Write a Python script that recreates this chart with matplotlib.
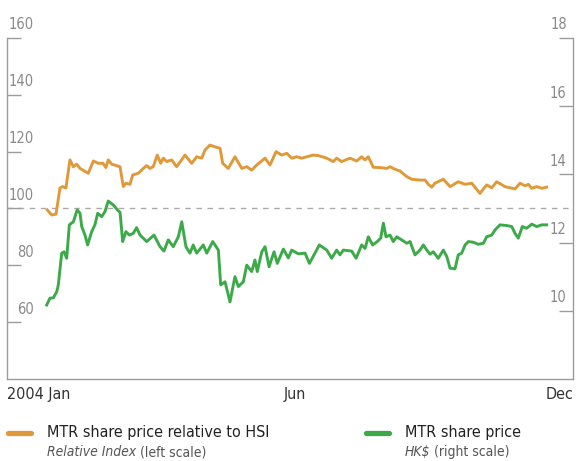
import numpy as np
import matplotlib
matplotlib.use("Agg")
import matplotlib.pyplot as plt
from matplotlib.lines import Line2D

plt.rcParams['font.family'] = ['DejaVu Sans']
plt.rcParams['font.stretch'] = 'condensed'

# day of year 2004 and values
rel_days = [26.0, 28.8, 31.6, 34.2, 35.9, 38.0, 40.6, 42.8, 44.9, 47.1, 52.4, 55.7, 58.9, 61.9,
            63.8, 65.3, 67.5, 72.9, 75.0, 76.7, 79.3, 81.1, 84.7, 87.9, 90.1, 92.2, 94.3, 96.9,
            99.1, 100.8, 103.0, 106.2, 109.4, 114.8, 119.1, 122.3, 125.6, 127.7, 130.9, 134.1,
            137.4, 139.1, 142.7, 147.0, 151.4, 154.6, 157.8, 161.0, 166.4, 169.6, 173.5, 177.1,
            180.4, 183.6, 186.8, 190.0, 193.3, 197.5, 200.8, 206.2, 210.4, 212.6, 215.8, 221.2,
            225.5, 228.7, 230.9, 233.0, 236.2, 240.5, 244.9, 247.0, 250.2, 253.4, 257.8, 261.0,
            266.3, 269.6, 271.7, 273.9, 276.0, 281.4, 285.7, 291.0, 295.4, 299.7, 305.0, 309.3,
            312.6, 315.8, 321.1, 327.6, 330.8, 334.0, 336.2, 338.4, 341.6, 344.8, 348.0]
rel_index = [99.5, 97.7, 98.0, 107.2, 107.7, 107.2, 117.1, 114.7, 115.6, 114.1, 112.4, 116.7,
             115.9, 115.9, 114.4, 117.1, 115.6, 114.7, 107.7, 108.9, 108.5, 111.8, 112.4, 114.1,
             115.1, 114.1, 114.7, 118.8, 115.9, 117.7, 116.5, 117.1, 114.7, 118.8, 115.9, 118.2,
             117.7, 120.6, 122.3, 121.7, 121.2, 115.9, 114.1, 118.2, 114.1, 114.7, 113.5, 115.3,
             117.7, 115.3, 120.0, 118.8, 119.4, 117.7, 118.2, 117.7, 118.2, 118.8, 118.6, 117.7,
             116.5, 117.7, 116.5, 117.7, 116.7, 118.2, 117.1, 118.2, 114.5, 114.4, 114.1, 114.7,
             113.8, 113.2, 111.2, 110.3, 110.0, 110.0, 108.5, 107.5, 108.9, 110.3, 107.7, 109.4,
             108.5, 108.9, 105.3, 108.3, 107.3, 109.4, 107.7, 106.9, 108.9, 108.0, 108.5, 107.1,
             107.7, 107.1, 107.5]

price_days = [25.6, 27.7, 29.9, 32.1, 33.1, 35.3, 36.8, 38.5, 40.2, 42.8, 45.3, 47.1, 48.2, 50.3,
              52.0, 54.6, 56.7, 58.5, 61.1, 63.2, 65.3, 68.6, 71.8, 72.9, 74.6, 76.7, 78.9, 81.4,
              83.6, 85.8, 90.1, 94.8, 98.7, 101.2, 104.0, 107.2, 110.5, 112.7, 115.4, 118.0,
              120.1, 122.3, 126.6, 128.8, 132.7, 136.3, 137.8, 140.6, 143.8, 147.0, 149.2, 152.4,
              154.6, 157.8, 159.9, 161.4, 164.3, 166.4, 169.0, 172.2, 174.3, 178.2, 181.4, 183.6,
              187.9, 192.2, 195.0, 198.6, 201.4, 206.2, 209.4, 212.6, 214.7, 216.9, 222.3, 225.1,
              228.7, 230.9, 233.0, 235.8, 238.8, 241.0, 242.7, 244.4, 247.0, 249.1, 251.3, 254.5,
              257.8, 259.9, 263.1, 266.3, 268.5, 270.7, 272.8, 274.9, 278.1, 281.4, 283.6, 285.7,
              288.9, 291.0, 293.2, 295.4, 297.5, 300.7, 303.9, 307.2, 309.3, 312.6, 314.7, 317.9,
              322.2, 325.5, 327.6, 329.7, 332.3, 335.1, 338.4, 341.6, 344.8, 348.0]
share_price = [10.17, 10.37, 10.38, 10.56, 10.76, 11.69, 11.73, 11.54, 12.52, 12.61, 12.96, 12.86,
               12.47, 12.22, 11.93, 12.32, 12.52, 12.86, 12.76, 12.91, 13.22, 13.10, 12.93, 12.89,
               12.03, 12.32, 12.22, 12.27, 12.44, 12.22, 12.03, 12.22, 11.88, 11.75, 12.08, 11.88,
               12.17, 12.61, 11.88, 11.69, 11.93, 11.69, 11.93, 11.69, 12.03, 11.78, 10.76, 10.85,
               10.26, 11.00, 10.71, 10.85, 11.34, 11.15, 11.49, 11.15, 11.73, 11.88, 11.29, 11.73,
               11.39, 11.81, 11.55, 11.78, 11.67, 11.69, 11.39, 11.69, 11.93, 11.78, 11.54, 11.78,
               11.64, 11.78, 11.75, 11.54, 11.93, 11.83, 12.17, 11.93, 12.03, 12.13, 12.57, 12.17,
               12.22, 12.03, 12.17, 12.08, 11.98, 12.03, 11.64, 11.78, 11.93, 11.78, 11.66, 11.73,
               11.54, 11.78, 11.59, 11.25, 11.23, 11.64, 11.69, 11.93, 12.03, 12.01, 11.95, 11.98,
               12.17, 12.22, 12.37, 12.52, 12.50, 12.47, 12.27, 12.13, 12.47, 12.42, 12.54, 12.47,
               12.52, 12.52]

left_ticks = [60, 80, 100, 120, 140, 160]
right_ticks = [10, 12, 14, 16, 18]
month_ticks = [0, 186, 365]
month_labels = ['2004 Jan', 'Jun', 'Dec']

orange = '#E0993A'
green = '#3DAA49'
grey = '#9C9C9C'

fig = plt.figure(figsize=(5.77, 4.61), dpi=100)
ax = fig.add_axes([0.0121, 0.1779, 0.981, 0.7397])
ax2 = ax.twinx()

ax.set_xlim(0, 365)
ax.set_ylim(40, 160)
ax2.set_ylim(8, 18)

for a in (ax, ax2):
    for s in a.spines.values():
        s.set_color(grey)
        s.set_linewidth(1)
    a.spines['top'].set_visible(False)
ax.spines['right'].set_visible(False)
ax2.spines['left'].set_visible(False)
ax2.spines['bottom'].set_visible(False)

ax.axhline(100, color='#AAAAAA', lw=1, ls=(0, (4, 4)), zorder=1)

ax.plot(rel_days, rel_index, color=orange, lw=2.1, zorder=3)
ax2.plot(price_days, share_price, color=green, lw=2.1, zorder=3)

# inward ticks, labels sit on top of them
ax.set_yticks(left_ticks)
ax.tick_params(axis='y', direction='in', length=10, width=1, color=grey, labelleft=False)
ax2.set_yticks(right_ticks)
ax2.tick_params(axis='y', direction='in', length=10, width=1, color=grey, labelright=False)
for v in left_ticks:
    ax.annotate(str(v), xy=(0.048, v), xycoords=('axes fraction', 'data'), xytext=(0, 4),
                textcoords='offset points', ha='right', va='bottom', fontsize=10.5,
                color='#8A8A8A', annotation_clip=False)
for v in right_ticks:
    ax2.annotate(str(v), xy=(0.989, v), xycoords=('axes fraction', 'data'), xytext=(0, 4),
                 textcoords='offset points', ha='right', va='bottom', fontsize=10.5,
                 color='#8A8A8A', annotation_clip=False)

ax.set_xticks(month_ticks, month_labels)
ax.tick_params(axis='x', length=0, pad=6, labelsize=11.5, labelcolor='#333333')
xl = ax.get_xticklabels()
xl[0].set_horizontalalignment('left')
xl[-1].set_horizontalalignment('right')

# legend
fig.add_artist(Line2D([0.0139, 0.0537], [0.0607, 0.0607], color=orange, lw=3.8,
                      solid_capstyle='round'))
fig.add_artist(Line2D([0.6344, 0.6741], [0.0607, 0.0607], color=green, lw=3.8,
                      solid_capstyle='round'))
fig.text(0.0815, 0.0629, 'MTR share price relative to HSI', fontsize=11.5, color='#222222',
         va='center')
fig.text(0.7019, 0.0629, 'MTR share price', fontsize=11.5, color='#222222', va='center')
t1 = fig.text(0.0815, 0.0195, 'Relative Index', fontsize=10, color='#555555', style='italic',
              va='center')
ax.annotate(' (left scale)', xy=(1, 0.5), xycoords=t1, va='center', ha='left', fontsize=10,
            color='#555555', annotation_clip=False)
t2 = fig.text(0.7019, 0.0195, 'HK$', fontsize=10, color='#555555', style='italic', va='center')
ax.annotate(' (right scale)', xy=(1, 0.5), xycoords=t2, va='center', ha='left', fontsize=10,
            color='#555555', annotation_clip=False)

fig.savefig('out.png', dpi=100)
